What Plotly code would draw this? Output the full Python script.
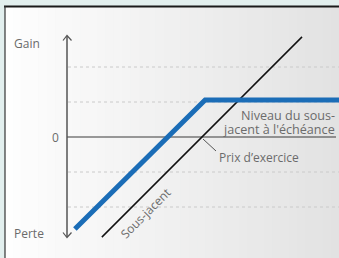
import plotly.graph_objects as go

# ---- data (units: underlying price relative to strike, payoff) ----
underlying_x = [-2.89, 2.83]
underlying_y = [-2.86, 2.86]
strategy_x = [-3.66, 0.06, 3.9]
strategy_y = [-2.63, 1.06, 1.06]
grid_levels = [-2, -1, 1, 2]
axis_labels = ["Gain", "0", "Perte"]

W, H = 339, 258
PXU = 35.0
X0, Y0 = 203.0, 137.0


def X(px):
    return (px - X0) / PXU


def Y(py):
    return (Y0 - py) / PXU


fig = go.Figure()

# grid lines (dotted)
for g in grid_levels:
    fig.add_trace(go.Scatter(x=[X(68), X(339)], y=[g, g], mode="lines",
                             line=dict(color="#cacaca", width=1, dash="dot"),
                             hoverinfo="skip"))

# zero line
fig.add_trace(go.Scatter(x=[X(67), X(336)], y=[0, 0], mode="lines",
                         line=dict(color="#3a3a3a", width=1.2), hoverinfo="skip"))

# vertical axis with arrow heads
fig.add_trace(go.Scatter(x=[X(67), X(67)], y=[Y(36), Y(237)], mode="lines",
                         line=dict(color="#555555", width=1.5), hoverinfo="skip"))
fig.add_trace(go.Scatter(x=[X(63), X(67), X(71.5)], y=[Y(40.5), Y(35.5), Y(40.5)], mode="lines",
                         line=dict(color="#555555", width=1.2), hoverinfo="skip"))
fig.add_trace(go.Scatter(x=[X(63), X(67), X(71.5)], y=[Y(232.5), Y(237.5), Y(232.5)], mode="lines",
                         line=dict(color="#555555", width=1.2), hoverinfo="skip"))

# underlying line
fig.add_trace(go.Scatter(x=underlying_x, y=underlying_y, mode="lines",
                         line=dict(color="#111111", width=1.5), hoverinfo="skip"))
# strategy payoff
fig.add_trace(go.Scatter(x=strategy_x, y=strategy_y, mode="lines",
                         line=dict(color="#1b6db7", width=5), hoverinfo="skip"))

# leader line for strike
fig.add_trace(go.Scatter(x=[X(203), X(216)], y=[Y(139), Y(151)], mode="lines",
                         line=dict(color="#555555", width=1), hoverinfo="skip"))

# panel background gradient and frame
shapes = []
n = 40
x_start, x_end = 5, 339
for i in range(n):
    a = x_start + (x_end - x_start) * i / n
    b = x_start + (x_end - x_start) * (i + 1) / n + 0.5
    t = (i + 0.5) / n
    c = int(round(254 - (254 - 226) * t))
    shapes.append(dict(type="rect", xref="paper", yref="paper",
                       x0=a / W, x1=min(b, W) / W, y0=0, y1=1 - 6 / H,
                       fillcolor=f"rgb({c},{c},{c})", line=dict(width=0), layer="below"))
shapes.append(dict(type="line", xref="paper", yref="paper",
                   x0=4 / W, x1=1, y0=1 - 6.5 / H, y1=1 - 6.5 / H,
                   line=dict(color="#1a1a1a", width=2), layer="below"))
shapes.append(dict(type="line", xref="paper", yref="paper",
                   x0=5 / W, x1=5 / W, y0=0, y1=1 - 6 / H,
                   line=dict(color="#333333", width=1.2), layer="below"))

txt = dict(family="Open Sans, Noto Sans, sans-serif", size=12, color="#6b6b6b")
txt_big = dict(txt, size=12.6)
ann = [
    dict(x=X(27), y=Y(43), text=axis_labels[0], showarrow=False, font=txt),
    dict(x=X(61), y=Y(137), text=axis_labels[1], showarrow=False, font=txt, xanchor="right"),
    dict(x=X(29), y=Y(233), text=axis_labels[2], showarrow=False, font=txt),
    dict(x=X(337), y=Y(115.5), text="Niveau du sous-", showarrow=False, font=txt_big, xanchor="right"),
    dict(x=X(337), y=Y(129), text="jacent à l'échéance", showarrow=False, font=txt_big, xanchor="right"),
    dict(x=X(217), y=Y(157), text="Prix d’exercice", showarrow=False, font=txt, xanchor="left"),
    dict(x=X(145), y=Y(213), text="Sous-jacent", showarrow=False, font=txt, textangle=-45),
]

fig.update_layout(
    width=W, height=H, autosize=False,
    margin=dict(l=0, r=0, t=0, b=0, pad=0),
    paper_bgcolor="#e2efee", plot_bgcolor="rgba(0,0,0,0)",
    showlegend=False,
    xaxis=dict(range=[X(0), X(W)], visible=False, fixedrange=True),
    yaxis=dict(range=[Y(H), Y(0)], visible=False, fixedrange=True),
    shapes=shapes, annotations=ann,
)

fig.write_html("out.html", config={"displayModeBar": False},
               post_script="document.body.style.margin='0px';document.body.style.overflow='hidden';")
